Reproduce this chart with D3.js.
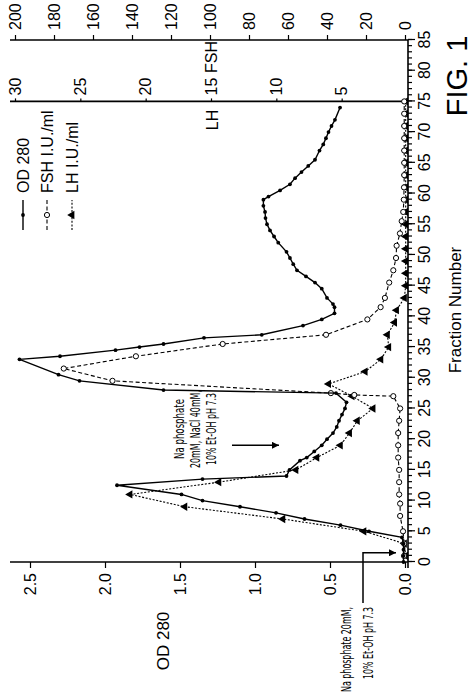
<!DOCTYPE html>
<html>
<head>
<meta charset="utf-8">
<style>
body { margin: 0; background: #fff; }
svg { display: block; font-family: "Liberation Sans", Arial, Helvetica, sans-serif; }
.axis path { display: none; }
.axis line { stroke: #000; stroke-width: 1.2px; }
.axis text { font-size: 16px; fill: #000; }
.frame { stroke: #000; stroke-width: 1.6px; fill: none; }
.note { font-family: "Liberation Sans Narrow", "DejaVu Sans Condensed", sans-serif; font-size: 14px; }
</style>
</head>
<body>
<svg width="474" height="699"></svg>
<script src="https://d3js.org/d3.v7.min.js"></script>
<script>

// values (fraction number / value)
var odFraction = [0,1,2,3,4,5,6,7,8,9,10,11,12.5,13.5,14,15,16.5,17,18,19,20,21,22,23,24,25,26,27.5,28,29.5,30.5,33,33.5,34.5,35,35.5,36.5,37,38.5,39.5,40.5,41.5,42,43,44.5,45.5,46.5,47.5,48.5,49.5,50.5,52,53,54,55,56,57,58,59,59.5,60.5,61.5,62.5,63.5,64.5,65.5,67,68,69,70,71,72,74];
var odValue = [0.01,0.01,0.01,0.01,0.02,0.24,0.43,0.67,0.86,1.10,1.35,1.49,1.92,1.35,0.79,0.77,0.70,0.655,0.605,0.555,0.52,0.48,0.455,0.44,0.42,0.40,0.39,0.46,1.61,2.17,2.31,2.57,2.30,1.93,1.77,1.61,1.34,0.955,0.68,0.555,0.47,0.47,0.48,0.52,0.555,0.60,0.66,0.72,0.745,0.767,0.79,0.845,0.873,0.90,0.92,0.93,0.933,0.944,0.944,0.91,0.833,0.767,0.733,0.69,0.645,0.60,0.57,0.545,0.527,0.51,0.49,0.467,0.433];

var fshFraction = [1,3,5,7.5,9.5,11,13,15,17,19,21,23,25,27,27.2,27.5,29.5,31.5,33.5,35.5,37,39.5,41.5,43,45.5,47.5,49.5,51.5,53.5,55.5,57,59,61,63,65,67,69,71,73,75];
var fshValue = [0.5,0.5,1,2.5,2.5,3,3,3,3.5,3.5,3.5,3,2.5,6,26,38,150,175,138,93.5,40.5,19.3,12.5,10.3,8.1,6.0,4.6,4.3,2.6,1.7,0.9,0.6,0.5,0.4,0.4,0.4,0.4,0.4,0.4,0.4];

var lhFraction = [1,3,5,7,9,11,13,15,17,19,21,23,25,27,29,31,33,35,37,39,41,43,45,47,49,51,53,55,57,59,61,63,65,67,69,71,73,75];
var lhValue = [0.1,0.2,3.3,9.5,17.0,21.2,14.4,8.5,6.9,5.1,4.4,3.8,2.6,4.2,6.0,3.2,2.0,1.4,1.5,0.95,0.8,0.2,0.1,0.1,0.1,0.1,0.1,0.1,0.1,0.1,0.1,0.1,0.1,0.1,0.1,0.1,0.1,0.1];

var fractionTicks = [0,5,10,15,20,25,30,35,40,45,50,55,60,65,70,75,80,85];
var odTicks = [0,0.5,1,1.5,2,2.5];
var fshTicks = [0,20,40,60,80,100,120,140,160,180,200];
var lhTicks = [5,10,15,20,25,30];
var seriesNames = ["OD 280", "FSH I.U./ml", "LH I.U./ml"];

var svg = d3.select("svg");

// the figure is drawn upright and then turned a quarter turn counter-clockwise
var fig = svg.append("g")
    .attr("transform", "translate(0,699) rotate(-90)");

var plotTop = 10, plotBottom = 408;

var x = d3.scaleLinear().domain([0, 85]).range([137, 659]);
var yOD = d3.scaleLinear().domain([0, 2.5]).range([405, 30]);
var yFSH = d3.scaleLinear().domain([0, 200]).range([405, 15]);
var yLH = d3.scaleLinear().domain([0, 30]).range([407, 15]);

var defs = svg.append("defs");
defs.append("marker")
    .attr("id", "arrow")
    .attr("viewBox", "0 0 10 10")
    .attr("refX", 10).attr("refY", 5)
    .attr("markerWidth", 11).attr("markerHeight", 7)
    .attr("markerUnits", "userSpaceOnUse")
    .attr("orient", "auto")
  .append("path")
    .attr("d", "M0,0L10,5L0,10Z")
    .attr("fill", "#000");

// frame lines
fig.append("line").attr("class", "frame")
    .attr("x1", x(0)).attr("x2", x(0)).attr("y1", plotTop).attr("y2", plotBottom);
fig.append("line").attr("class", "frame")
    .attr("x1", x(0) - 6).attr("x2", x(85)).attr("y1", plotBottom).attr("y2", plotBottom);
fig.append("line").attr("class", "frame")
    .attr("x1", x(85)).attr("x2", x(85)).attr("y1", plotTop).attr("y2", plotBottom);
fig.append("line").attr("class", "frame")
    .attr("x1", x(75)).attr("x2", x(75)).attr("y1", plotTop).attr("y2", plotBottom);

//axes
fig.append("g").attr("class", "axis")
    .attr("transform", "translate(0," + plotBottom + ")")
    .call(d3.axisBottom(x).tickValues(d3.range(0, 86)).tickSize(4).tickFormat(""));
fig.append("g").attr("class", "axis")
    .attr("transform", "translate(0," + plotBottom + ")")
    .call(d3.axisBottom(x).tickValues(fractionTicks).tickSize(7).tickPadding(4));

fig.append("g").attr("class", "axis")
    .attr("transform", "translate(" + x(0) + ",0)")
    .call(d3.axisLeft(yOD).tickValues(odTicks).tickSize(6).tickPadding(5).tickFormat(d3.format(".1f")));

fig.append("g").attr("class", "axis")
    .attr("transform", "translate(" + x(85) + ",0)")
    .call(d3.axisRight(yFSH).tickValues(fshTicks).tickSize(5).tickPadding(5));

fig.append("g").attr("class", "axis")
    .attr("transform", "translate(" + x(75) + ",0)")
    .call(d3.axisRight(yLH).tickValues(lhTicks).tickSize(3).tickPadding(3));

// axis titles
fig.append("text").attr("x", 58).attr("y", 163).attr("dy", "0.35em")
    .attr("text-anchor", "middle").style("font-size", "17px").text("OD 280");
fig.append("text").attr("x", 389).attr("y", 455).attr("dy", "0.35em")
    .attr("text-anchor", "middle").style("font-size", "17px").text("Fraction Number");
fig.append("text").attr("x", 623).attr("y", 457).attr("dy", "0.35em")
    .attr("text-anchor", "middle").style("font-size", "29px").text("FIG. 1");
fig.append("text").attr("x", 579).attr("y", 212).attr("dy", "0.35em")
    .attr("text-anchor", "middle").style("font-size", "16px").text("LH");
fig.append("text").attr("x", 642).attr("y", 211).attr("dy", "0.35em")
    .attr("text-anchor", "middle").style("font-size", "16px").text("FSH");

// series
var odLine = d3.line().x(function(d) { return x(d[0]); }).y(function(d) { return yOD(d[1]); });
var fshLine = d3.line().x(function(d) { return x(d[0]); }).y(function(d) { return yFSH(d[1]); });
var lhLine = d3.line().x(function(d) { return x(d[0]); }).y(function(d) { return yLH(d[1]); });

var odData = d3.zip(odFraction, odValue);
var fshData = d3.zip(fshFraction, fshValue);
var lhData = d3.zip(lhFraction, lhValue);

var triangle = d3.symbol().type(d3.symbolTriangle).size(30);

fig.append("path").attr("d", lhLine(lhData))
    .attr("fill", "none").attr("stroke", "#000").attr("stroke-width", 1.1).attr("stroke-dasharray", "2,1.6");
fig.selectAll(".lh").data(lhData).enter().append("path")
    .attr("class", "lh")
    .attr("d", triangle)
    .attr("transform", function(d) { return "translate(" + x(d[0]) + "," + yLH(d[1]) + ")"; })
    .attr("fill", "#000");

fig.append("path").attr("d", fshLine(fshData))
    .attr("fill", "none").attr("stroke", "#000").attr("stroke-width", 1.1).attr("stroke-dasharray", "4,2.5");
fig.selectAll(".fsh").data(fshData).enter().append("circle")
    .attr("class", "fsh")
    .attr("cx", function(d) { return x(d[0]); })
    .attr("cy", function(d) { return yFSH(d[1]); })
    .attr("r", 2.6)
    .attr("fill", "#fff").attr("stroke", "#000").attr("stroke-width", 1);

fig.append("path").attr("d", odLine(odData))
    .attr("fill", "none").attr("stroke", "#000").attr("stroke-width", 1.4);
fig.selectAll(".od").data(odData).enter().append("circle")
    .attr("class", "od")
    .attr("cx", function(d) { return x(d[0]); })
    .attr("cy", function(d) { return yOD(d[1]); })
    .attr("r", 1.9)
    .attr("fill", "#000");

// legend
var legend = fig.append("g").attr("transform", "translate(469,0)");
var legendY = [23, 47, 72];
legend.append("line").attr("x1", 0).attr("x2", 30).attr("y1", legendY[0]).attr("y2", legendY[0])
    .attr("stroke", "#000").attr("stroke-width", 1.4);
legend.append("circle").attr("cx", 15).attr("cy", legendY[0]).attr("r", 1.9);
legend.append("line").attr("x1", 0).attr("x2", 30).attr("y1", legendY[1]).attr("y2", legendY[1])
    .attr("stroke", "#000").attr("stroke-width", 1.1).attr("stroke-dasharray", "4,2.5");
legend.append("circle").attr("cx", 15).attr("cy", legendY[1]).attr("r", 2.6)
    .attr("fill", "#fff").attr("stroke", "#000");
legend.append("line").attr("x1", 0).attr("x2", 30).attr("y1", legendY[2]).attr("y2", legendY[2])
    .attr("stroke", "#000").attr("stroke-width", 1.1).attr("stroke-dasharray", "2,1.6");
legend.append("path").attr("d", triangle).attr("transform", "translate(15," + legendY[2] + ")");
legend.selectAll("text").data(seriesNames).enter().append("text")
    .attr("x", 37)
    .attr("y", function(d, i) { return legendY[i]; })
    .attr("dy", "0.35em")
    .style("font-size", "16px")
    .text(function(d) { return d; });

// buffer change notes (condensed type, squeezed to the widths seen in the figure)
var note2 = ["Na phosphate", "20mM, NaCl 40mM,", "10% Et-OH pH 7.3"];
var note2Len = [60, 78, 72];
fig.selectAll(".note2").data(note2).enter().append("text")
    .attr("class", "note note2")
    .attr("x", 270)
    .attr("y", function(d, i) { return 179 + i * 16; })
    .attr("dy", "0.35em")
    .attr("text-anchor", "middle")
    .attr("textLength", function(d, i) { return note2Len[i]; })
    .attr("lengthAdjust", "spacingAndGlyphs")
    .text(function(d) { return d; });
fig.append("line")
    .attr("x1", x(19)).attr("x2", x(19)).attr("y1", 232).attr("y2", 279)
    .attr("stroke", "#000").attr("stroke-width", 1.5)
    .attr("marker-end", "url(#arrow)");

var note1 = ["Na phosphate 20mM,", "10% Et-OH pH 7.3"];
var note1Len = [85, 72];
fig.selectAll(".note1").data(note1).enter().append("text")
    .attr("class", "note note1")
    .attr("x", 92)
    .attr("y", function(d, i) { return 346 + i * 22; })
    .attr("dy", "0.35em")
    .attr("text-anchor", "end")
    .attr("textLength", function(d, i) { return note1Len[i]; })
    .attr("lengthAdjust", "spacingAndGlyphs")
    .text(function(d) { return d; });
fig.append("path")
    .attr("d", "M96,363L" + x(1.5) + ",363L" + x(1.5) + ",396")
    .attr("fill", "none").attr("stroke", "#000").attr("stroke-width", 1.5)
    .attr("marker-end", "url(#arrow)");

</script>
</body>
</html>
